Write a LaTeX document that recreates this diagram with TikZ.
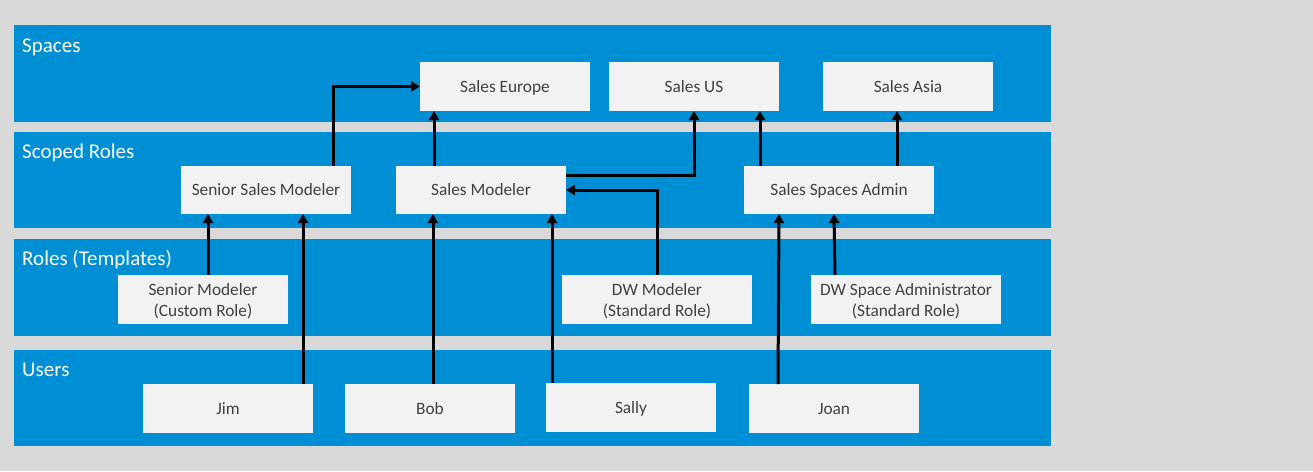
\documentclass[tikz,border=0pt]{standalone}
\usepackage{fontspec}
\setmainfont{Carlito}
\usetikzlibrary{arrows.meta}
\definecolor{bgray}{HTML}{D9D9D9}
\definecolor{bandblue}{HTML}{008FD5}
\definecolor{boxfill}{HTML}{F2F2F2}
\definecolor{boxtext}{HTML}{404040}
\begin{document}
\begin{tikzpicture}[x=1pt,y=-1pt,
  band/.style={fill=bandblue,draw=none},
  bandlabel/.style={anchor=base west,text=white,inner sep=0pt,font=\fontsize{21}{25}\selectfont},
  rolebox/.style={fill=boxfill,draw=none,inner sep=0pt,outer sep=0pt,text=boxtext,
    minimum width=170pt,minimum height=49pt,align=center,font=\fontsize{17.3}{21}\selectfont,
    text height=13.5pt,text depth=2.5pt},
  twoline/.style={text height=35.5pt,text depth=2.5pt},
  widebox/.style={rolebox,minimum width=190pt},
  conn/.style={line width=3pt,-{Triangle[length=9pt,width=10pt]}}]
\fill[bgray] (0,0) rectangle (1313,471);
\useasboundingbox (0,0) rectangle (1313,471);
% bands
\fill[band] (14,25) rectangle (1051,122);
\fill[band] (14,132) rectangle (1051,228);
\fill[band] (14,239) rectangle (1051,336);
\fill[band] (14,350) rectangle (1051,446);
\node[bandlabel] (lspaces) at (22,52) {Spaces};
\node[bandlabel] (lscoped) at (22,158) {Scoped Roles};
\node[bandlabel] (lroles) at (22,265) {Roles (Templates)};
\node[bandlabel] (lusers) at (22,376) {Users};
% spaces
\node[rolebox] (eu) at (505,86.5) {Sales Europe};
\node[rolebox] (us) at (694,86.5) {Sales US};
\node[rolebox] (asia) at (908,86.5) {Sales Asia};
% scoped roles
\node[rolebox,minimum height=48pt] (ssm) at (266,190) {Senior Sales Modeler};
\node[rolebox,minimum height=48pt] (sm) at (481,190) {Sales Modeler};
\node[widebox,minimum height=48pt] (ssa) at (839,190) {Sales Spaces Admin};
% roles
\node[rolebox,twoline] (senm) at (203,299.5) {Senior Modeler\\(Custom Role)};
\node[widebox,twoline] (dwm) at (657,299.5) {DW Modeler\\(Standard Role)};
\node[widebox,twoline] (dwsa) at (906,299.5) {DW Space Administrator\\(Standard Role)};
% users
\node[rolebox] (jim) at (228,408.5) {Jim};
\node[rolebox] (bob) at (430,408.5) {Bob};
\node[rolebox] (sally) at (631,407.5) {Sally};
\node[rolebox] (joan) at (834,408.5) {Joan};
% connectors
\draw[conn] ([xshift=67pt]ssm.north) |- (eu.west);
\draw[conn] ([xshift=-47pt]sm.north) -- ([xshift=-71pt]eu.south);
\draw[conn] ([yshift=15pt]sm.east) -| (us.south);
\draw[conn] (dwm.north) |- (sm.east);
\draw[conn] ([xshift=-79pt]ssa.north) -- ([xshift=66pt]us.south);
\draw[conn] ([xshift=58pt]ssa.north) -- ([xshift=-11pt]asia.south);
\draw[conn] ([xshift=5pt]senm.north) -- ([xshift=-58pt]ssm.south);
\draw[conn] ([xshift=75pt]jim.north) -- ([xshift=37pt]ssm.south);
\draw[conn] ([xshift=3pt]bob.north) -- ([xshift=-48pt]sm.south);
\draw[conn] ([xshift=-79pt]sally.north) -- ([xshift=71pt]sm.south);
\draw[conn] ([xshift=-56pt]joan.north) -- ([xshift=-60pt]ssa.south);
\draw[conn] ([xshift=-71pt]dwsa.north) -- ([xshift=-5pt]ssa.south);
\end{tikzpicture}
\end{document}
